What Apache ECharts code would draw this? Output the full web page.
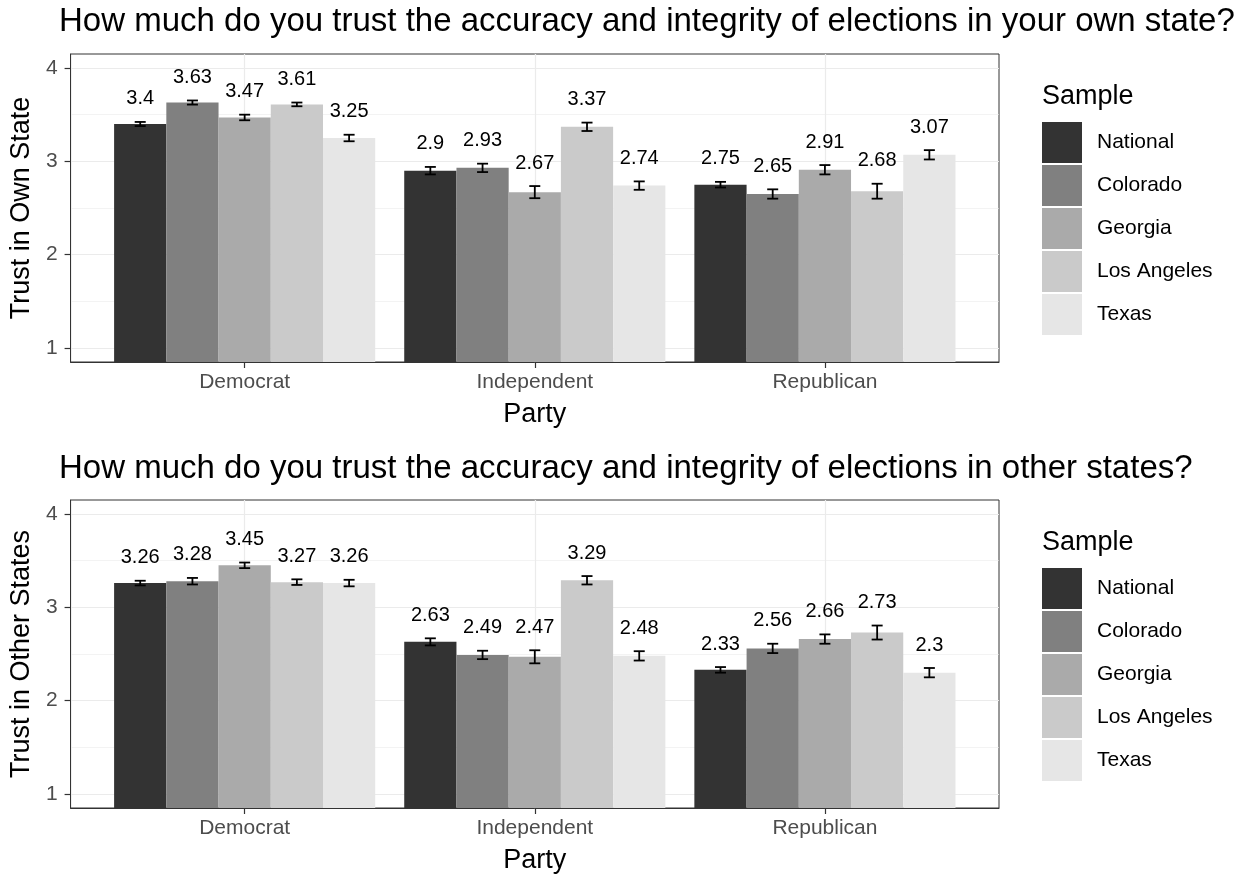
<!DOCTYPE html>
<html lang="en">
<head>
  <meta charset="UTF-8">
  <title>Trust in elections by party and sample</title>
  <script src="https://cdn.jsdelivr.net/npm/echarts@6/dist/echarts.min.js"></script>
  <style>
    html, body { margin: 0; padding: 0; background: #fff; }
    #chart { width: 1242px; height: 876px; }
  </style>
</head>
<body>
  <div id="chart"></div>
  <script>
    const parties = ['Democrat', 'Independent', 'Republican'];
    const samples = ['National', 'Colorado', 'Georgia', 'Los Angeles', 'Texas'];
    const greys = ['#333333', '#808080', '#aaaaaa', '#cacaca', '#e6e6e6'];

    // trust in own state, values per sample (National, Colorado, Georgia, Los Angeles, Texas)
    const ownDemocrat = [3.4, 3.63, 3.47, 3.61, 3.25];
    const ownIndependent = [2.9, 2.93, 2.67, 3.37, 2.74];
    const ownRepublican = [2.75, 2.65, 2.91, 2.68, 3.07];
    // half width of the error bars
    const ownDemocratErr = [0.022, 0.022, 0.03, 0.02, 0.035];
    const ownIndependentErr = [0.04, 0.045, 0.065, 0.045, 0.045];
    const ownRepublicanErr = [0.03, 0.05, 0.05, 0.08, 0.05];

    // trust in other states
    const otherDemocrat = [3.26, 3.28, 3.45, 3.27, 3.26];
    const otherIndependent = [2.63, 2.49, 2.47, 3.29, 2.48];
    const otherRepublican = [2.33, 2.56, 2.66, 2.73, 2.3];
    const otherDemocratErr = [0.025, 0.035, 0.03, 0.03, 0.035];
    const otherIndependentErr = [0.038, 0.045, 0.07, 0.045, 0.05];
    const otherRepublicanErr = [0.03, 0.05, 0.05, 0.075, 0.05];

    const yTicks = [1, 2, 3, 4];
    const yMinorTicks = [1.5, 2.5, 3.5];
    const xTicks = [1, 2, 3];

    const FONT = '"Liberation Sans", Arial, Helvetica, sans-serif';
    const Y_MIN = 0.85, Y_MAX = 4.15;
    const BAR_W = 0.18;

    const panels = [
      {
        title: 'How much do you trust the accuracy and integrity of elections in your own state?',
        yName: 'Trust in Own State',
        means: [ownDemocrat, ownIndependent, ownRepublican],
        errs: [ownDemocratErr, ownIndependentErr, ownRepublicanErr],
        top: 54, titleTop: 5, legendTitleTop: 83, legendTop: 122
      },
      {
        title: 'How much do you trust the accuracy and integrity of elections in other states?',
        yName: 'Trust in Other States',
        means: [otherDemocrat, otherIndependent, otherRepublican],
        errs: [otherDemocratErr, otherIndependentErr, otherRepublicanErr],
        top: 500, titleTop: 452, legendTitleTop: 529, legendTop: 568
      }
    ];

    function renderBar(s) {
      return function (params, api) {
        const x = api.value(0) + (s - 2) * BAR_W;
        const v = api.value(1);
        const e = api.value(2);
        const tl = api.coord([x - BAR_W / 2, v]);
        const br = api.coord([x + BAR_W / 2, Y_MIN]);
        const cx = api.coord([x, v])[0];
        const yHi = api.coord([x, v + e])[1];
        const yLo = api.coord([x, v - e])[1];
        const cap = 5.5;
        const ebStyle = { stroke: '#000', lineWidth: 1.8 };
        return {
          type: 'group',
          children: [
            { type: 'rect', shape: { x: tl[0], y: tl[1], width: br[0] - tl[0], height: br[1] - tl[1] }, style: { fill: api.visual('color') } },
            { type: 'line', shape: { x1: cx, y1: yHi, x2: cx, y2: yLo }, style: ebStyle },
            { type: 'line', shape: { x1: cx - cap, y1: yHi, x2: cx + cap, y2: yHi }, style: ebStyle },
            { type: 'line', shape: { x1: cx - cap, y1: yLo, x2: cx + cap, y2: yLo }, style: ebStyle },
            {
              type: 'text', x: cx, y: yHi - 23,
              style: { text: String(v), fill: '#000', fontSize: 20, fontFamily: FONT, align: 'center', verticalAlign: 'middle' }
            }
          ]
        };
      };
    }

    const grid = [], xAxis = [], yAxis = [], series = [], title = [], legend = [];

    panels.forEach((p, g) => {
      grid.push({
        left: 69, width: 930, top: p.top, height: 308,
        show: true, borderColor: '#333', borderWidth: 1, backgroundColor: '#fff'
      });
      title.push({
        text: p.title, left: 59, top: p.titleTop, padding: 0,
        textStyle: { fontSize: 33, fontWeight: 'normal', color: '#000', fontFamily: FONT }
      });
      title.push({
        text: 'Sample', left: 1042, top: p.legendTitleTop, padding: 0,
        textStyle: { fontSize: 27, fontWeight: 'normal', color: '#000', fontFamily: FONT }
      });
      legend.push({
        data: samples, orient: 'vertical', left: 1042, top: p.legendTop, padding: 0,
        icon: 'rect', itemWidth: 40, itemHeight: 41, itemGap: 2,
        textStyle: { fontSize: 21, color: '#000', fontFamily: FONT, padding: [0, 0, 0, 10] }
      });
      xAxis.push({
        gridIndex: g, type: 'value', min: 0.4, max: 3.6,
        axisLine: { show: true, lineStyle: { color: '#333' } },
        axisTick: { show: true, length: 6, customValues: xTicks, lineStyle: { color: '#333', width: 1.2 } },
        axisLabel: {
          customValues: xTicks, margin: 10, fontSize: 21, color: '#4d4d4d', fontFamily: FONT,
          formatter: v => parties[Math.round(v) - 1]
        },
        splitLine: { show: true, lineStyle: { color: '#ebebeb', width: 1.2 } },
        name: 'Party', nameLocation: 'middle', nameGap: 39,
        nameTextStyle: { fontSize: 27, color: '#000', fontFamily: FONT }
      });
      yAxis.push({
        gridIndex: g, type: 'value', min: Y_MIN, max: Y_MAX,
        axisLine: { show: true, lineStyle: { color: '#333' } },
        axisTick: { show: true, length: 6, customValues: yTicks, lineStyle: { color: '#333', width: 1.2 } },
        axisLabel: { customValues: yTicks, margin: 13, fontSize: 21, color: '#4d4d4d', fontFamily: FONT },
        splitLine: { show: true, lineStyle: { color: '#ebebeb', width: 1.2 } },
        name: p.yName, nameLocation: 'middle', nameGap: 31,
        nameTextStyle: { fontSize: 27, color: '#000', fontFamily: FONT }
      });
      // minor gridlines
      yAxis.push({
        gridIndex: g, type: 'value', min: Y_MIN, max: Y_MAX, position: 'left',
        axisLine: { show: false },
        axisTick: { show: false, customValues: yMinorTicks },
        axisLabel: { show: false, customValues: yMinorTicks },
        splitLine: { show: true, lineStyle: { color: '#ebebeb', width: 0.6 } }
      });

      samples.forEach((name, s) => {
        series.push({
          name: name, type: 'custom',
          xAxisIndex: g, yAxisIndex: g * 2,
          itemStyle: { color: greys[s] },
          renderItem: renderBar(s),
          encode: { x: 0, y: 1 },
          data: parties.map((_, i) => [i + 1, p.means[i][s], p.errs[i][s]])
        });
      });
    });

    const chart = echarts.init(document.getElementById('chart'));
    chart.setOption({
      animation: false,
      backgroundColor: '#fff',
      title: title,
      legend: legend,
      grid: grid,
      xAxis: xAxis,
      yAxis: yAxis,
      series: series
    });
  </script>
</body>
</html>
